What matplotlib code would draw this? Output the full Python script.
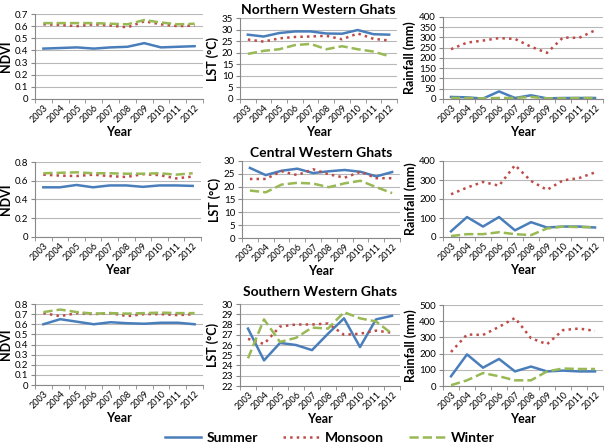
import matplotlib
matplotlib.use("Agg")
import matplotlib.pyplot as plt
from matplotlib.lines import Line2D

plt.rcParams["font.family"] = ["Lato", "DejaVu Sans"]

years = ["2003", "2004", "2005", "2006", "2007", "2008", "2009", "2010", "2011", "2012"]
seasons = ["Summer", "Monsoon", "Winter"]

# Northern Western Ghats
n_ndvi_summer = [0.415, 0.42, 0.425, 0.415, 0.425, 0.43, 0.46, 0.425, 0.43, 0.435]
n_ndvi_monsoon = [0.615, 0.61, 0.60, 0.615, 0.605, 0.59, 0.64, 0.615, 0.60, 0.605]
n_ndvi_winter = [0.625, 0.625, 0.625, 0.625, 0.62, 0.615, 0.65, 0.63, 0.615, 0.62]
n_lst_summer = [27.8, 27.0, 28.5, 29.2, 29.2, 28.3, 28.2, 29.8, 28.0, 27.8]
n_lst_monsoon = [25.7, 24.8, 26.2, 26.8, 27.0, 27.3, 25.8, 28.3, 26.0, 25.3]
n_lst_winter = [19.5, 20.8, 21.5, 23.3, 23.8, 21.5, 22.8, 21.5, 20.5, 18.5]
n_rain_summer = [10, 8, 2, 37, 5, 18, 3, 5, 5, 5]
n_rain_monsoon = [243, 275, 285, 297, 293, 255, 225, 300, 298, 335]
n_rain_winter = [5, 5, 3, 5, 5, 10, 3, 3, 5, 5]

# Central Western Ghats
c_ndvi_summer = [0.53, 0.53, 0.555, 0.53, 0.55, 0.55, 0.535, 0.55, 0.55, 0.545]
c_ndvi_monsoon = [0.665, 0.655, 0.65, 0.665, 0.65, 0.64, 0.67, 0.66, 0.625, 0.645]
c_ndvi_winter = [0.68, 0.685, 0.69, 0.68, 0.68, 0.675, 0.675, 0.68, 0.665, 0.68]
c_lst_summer = [27.3, 24.5, 26.2, 27.0, 25.3, 26.0, 26.5, 25.8, 24.0, 25.7]
c_lst_monsoon = [23.0, 23.0, 26.0, 24.5, 26.8, 24.8, 23.5, 25.8, 23.3, 23.3]
c_lst_winter = [18.5, 17.8, 20.8, 21.5, 21.2, 19.8, 21.3, 22.3, 19.8, 17.5]
c_rain_summer = [30, 105, 55, 105, 35, 78, 50, 55, 55, 50]
c_rain_monsoon = [225, 260, 290, 270, 378, 295, 248, 298, 310, 340]
c_rain_winter = [5, 15, 15, 25, 15, 10, 45, 55, 52, 52]

# Southern Western Ghats
s_ndvi_summer = [0.60, 0.65, 0.625, 0.60, 0.62, 0.61, 0.605, 0.615, 0.615, 0.60]
s_ndvi_monsoon = [0.71, 0.68, 0.71, 0.70, 0.71, 0.68, 0.70, 0.70, 0.69, 0.70]
s_ndvi_winter = [0.72, 0.745, 0.72, 0.705, 0.71, 0.705, 0.71, 0.715, 0.71, 0.71]
s_lst_summer = [27.6, 24.5, 26.2, 26.0, 25.5, 27.1, 28.6, 25.8, 28.5, 28.85]
s_lst_monsoon = [26.6, 26.1, 27.8, 28.0, 28.0, 28.1, 27.0, 27.1, 27.4, 27.2]
s_lst_winter = [24.7, 28.5, 26.3, 26.7, 27.7, 27.6, 29.2, 28.6, 28.3, 27.1]
s_rain_summer = [60, 195, 113, 167, 90, 120, 90, 95, 90, 90]
s_rain_monsoon = [210, 318, 315, 365, 420, 295, 258, 345, 355, 340]
s_rain_winter = [5, 35, 80, 60, 35, 35, 90, 108, 105, 105]

colors = ["#4a7ebb", "#be4b48", "#98b954"]
styles = ["-", ":", "--"]

W, H = 611, 448
fig = plt.figure(figsize=(W / 100, H / 100), dpi=100)


def px_axes(x0, y0, x1, y1):
    return fig.add_axes([x0 / W, 1 - y1 / H, (x1 - x0) / W, (y1 - y0) / H])


def panel(box, series, ylabel, ylim, ystep, yfmt, title=None, title_pad=4):
    ax = px_axes(*box)
    x = list(range(len(years)))
    for vals, c, ls in zip(series, colors, styles):
        ax.plot(x, vals, color=c, linestyle=ls, linewidth=1.8)
    ax.set_xlim(-0.5, len(years) - 0.5)
    ax.set_ylim(*ylim)
    yt = []
    v = ylim[0]
    while v <= ylim[1] + 1e-9:
        yt.append(round(v, 3))
        v += ystep
    ax.set_yticks(yt)
    ax.set_yticklabels([yfmt(t) for t in yt], fontsize=7)
    ax.set_xticks(x)
    ax.set_xticklabels(years, rotation=45, fontsize=6.5, ha="right",
                       rotation_mode="anchor")
    ax.set_xticks([i + 0.5 for i in range(-1, len(years))], minor=True)
    ax.tick_params(axis="x", which="major", length=0, pad=3)
    ax.tick_params(axis="x", which="minor", length=3, color="#888888")
    ax.tick_params(axis="y", length=3, color="#888888", pad=2)
    ax.grid(axis="y", color="#b8b8b8", linewidth=0.8)
    ax.set_axisbelow(True)
    for s in ["top", "right"]:
        ax.spines[s].set_visible(False)
    for s in ["left", "bottom"]:
        ax.spines[s].set_color("#888888")
    ax.set_xlabel("Year", fontsize=9, fontweight="bold", labelpad=1)
    ax.set_ylabel(ylabel, fontsize=9, fontweight="bold", labelpad=2)
    if title:
        ax.set_title(title, fontsize=10, fontweight="bold", pad=title_pad)
    return ax


f1 = lambda t: f"{t:g}"
fi = lambda t: f"{int(t)}"

# row 1
panel((35, 14, 203, 99), [n_ndvi_summer, n_ndvi_monsoon, n_ndvi_winter],
      "NDVI", (0, 0.7), 0.1, f1)
panel((240, 18, 397, 99), [n_lst_summer, n_lst_monsoon, n_lst_winter],
      "LST (°C)", (0, 35), 5, fi, "Northern Western Ghats", 3)
panel((443, 17, 603, 99), [n_rain_summer, n_rain_monsoon, n_rain_winter],
      "Rainfall (mm)", (0, 400), 50, fi)

# row 2
panel((35, 162, 201, 237), [c_ndvi_summer, c_ndvi_monsoon, c_ndvi_winter],
      "NDVI", (0, 0.8), 0.2, f1)
panel((242, 161, 400, 238), [c_lst_summer, c_lst_monsoon, c_lst_winter],
      "LST (°C)", (0, 30), 5, fi, "Central Western Ghats", 3)
panel((443, 161, 603, 237), [c_rain_summer, c_rain_monsoon, c_rain_winter],
      "Rainfall (mm)", (0, 400), 100, fi)

# row 3
panel((35, 304, 203, 385), [s_ndvi_summer, s_ndvi_monsoon, s_ndvi_winter],
      "NDVI", (0, 0.8), 0.1, f1)
panel((240, 304, 400, 386), [s_lst_summer, s_lst_monsoon, s_lst_winter],
      "LST (°C)", (22, 30), 1, fi, "Southern Western Ghats", 6)
panel((443, 305, 603, 386), [s_rain_summer, s_rain_monsoon, s_rain_winter],
      "Rainfall (mm)", (0, 500), 100, fi)

handles = [Line2D([], [], color=c, linestyle=ls, linewidth=1.8)
           for c, ls in zip(colors, styles)]
fig.legend(handles, seasons, loc="center", bbox_to_anchor=(330 / W, 1 - 438 / H),
           ncol=3, frameon=False, handlelength=2.6, handletextpad=0.4,
           columnspacing=1.8, prop={"size": 10, "weight": "bold"})

fig.savefig("out.png", dpi=100)
